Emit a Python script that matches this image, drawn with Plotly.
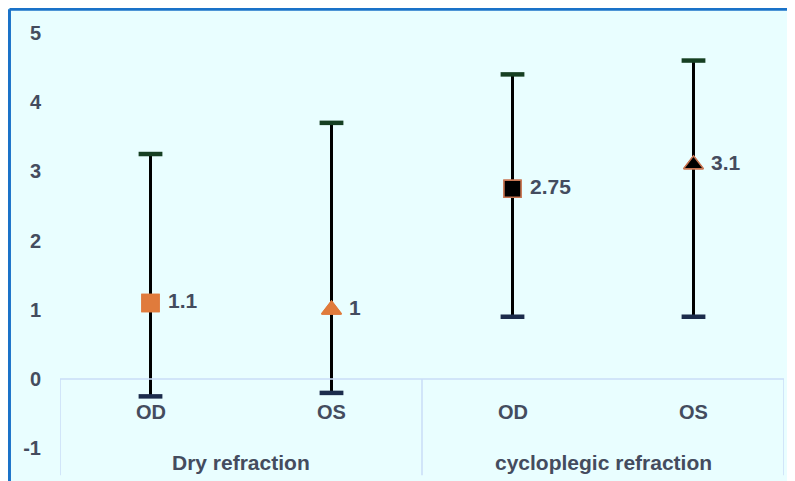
import plotly.graph_objects as go

# ---- data ----
groups = ["Dry refraction", "Dry refraction", "cycloplegic refraction", "cycloplegic refraction"]
eyes = ["OD", "OS", "OD", "OS"]
means = [1.1, 1.0, 2.75, 3.1]
upper = [3.25, 3.7, 4.4, 4.6]
lower = [-0.25, -0.2, 0.9, 0.9]
y_ticks = [-1, 0, 1, 2, 3, 4, 5]
y_ticktext = ["-1", "0", "1", "2", "3", "4", "5"]

marker_fill = ["#e07b3c", "#e07b3c", "#000000", "#000000"]
marker_edge = ["#e07b3c", "#e07b3c", "#c87552", "#c87552"]
marker_symbol = ["square", "triangle-up", "square", "triangle-up"]

x = list(range(len(eyes)))
plus = [u - m for u, m in zip(upper, means)]
minus = [m - l for m, l in zip(means, lower)]

TEXT = "#444c5e"
FONT = "Liberation Sans, Arial, sans-serif"
GRID = "#c9dcf7"
BG = "#e9feff"
FRAME = "#1a72c8"

fig = go.Figure()

# whiskers + markers
fig.add_trace(go.Scatter(
    x=x, y=means, mode="markers+text",
    text=[" " + f"{v:g}" for v in means], textposition="middle right",
    textfont=dict(family=FONT, size=21, color=TEXT, weight="bold"),
    error_y=dict(type="data", symmetric=False, array=plus, arrayminus=minus,
                 color="#000000", thickness=3, width=0),
    marker=dict(symbol=marker_symbol, size=17, color=marker_fill,
                line=dict(color=marker_edge, width=1.5)),
    showlegend=False, cliponaxis=False,
))
# caps
fig.add_trace(go.Scatter(
    x=x, y=upper, mode="markers",
    marker=dict(symbol="line-ew", size=17, line=dict(color="#163f22", width=4.5)),
    showlegend=False, cliponaxis=False,
))
fig.add_trace(go.Scatter(
    x=x, y=lower, mode="markers",
    marker=dict(symbol="line-ew", size=17, line=dict(color="#1c2c4c", width=4.5)),
    showlegend=False, cliponaxis=False,
))
# re-draw markers on top of caps
fig.add_trace(go.Scatter(
    x=x, y=means, mode="markers",
    marker=dict(symbol=marker_symbol, size=17, color=marker_fill,
                line=dict(color=marker_edge, width=1.5)),
    showlegend=False, cliponaxis=False,
))

shapes = []
# outer frame (left and top edges; right/bottom lie outside the view)
shapes.append(dict(type="line", xref="paper", yref="paper",
                   x0=-0.0698, x1=-0.0698, y0=-0.3, y1=1.0213,
                   line=dict(color=FRAME, width=3), layer="below"))
shapes.append(dict(type="line", xref="paper", yref="paper",
                   x0=-0.0698, x1=1.3, y0=1.0213, y1=1.0213,
                   line=dict(color=FRAME, width=3), layer="below"))
# category table
shapes.append(dict(type="line", xref="x", yref="y", x0=-0.5, x1=3.5, y0=0, y1=0,
                   line=dict(color=GRID, width=1.5)))
ybot = -1.39
for xv in [-0.5, 1.5, 3.5]:
    shapes.append(dict(type="line", xref="x", yref="y", x0=xv, x1=xv, y0=0, y1=ybot,
                       line=dict(color=GRID, width=1.5)))

annotations = []
for i, e in enumerate(eyes):
    annotations.append(dict(x=i, y=-0.48, xref="x", yref="y", text=e, showarrow=False,
                            font=dict(family=FONT, size=20, color=TEXT, weight="bold")))
seen = []
for g in groups:
    if g not in seen:
        seen.append(g)
for g in seen:
    idx = [i for i, gg in enumerate(groups) if gg == g]
    annotations.append(dict(x=sum(idx) / len(idx), y=-1.2, xref="x", yref="y", text=g,
                            showarrow=False,
                            font=dict(family=FONT, size=21, color=TEXT, weight="bold")))

fig.update_layout(
    width=795, height=481,
    margin=dict(l=52, r=19, t=11, b=13),
    paper_bgcolor=BG, plot_bgcolor=BG,
    shapes=shapes, annotations=annotations,
    xaxis=dict(range=[-0.5, 3.5], showticklabels=False, showgrid=False, zeroline=False,
               showline=False, fixedrange=True, automargin=False),
    yaxis=dict(range=[-1.4, 5.2], tickvals=y_ticks, ticktext=y_ticktext,
               showgrid=False, zeroline=False, automargin=False,
               showline=False, ticks="", ticklabelstandoff=18,
               tickfont=dict(family=FONT, size=20, color=TEXT, weight="bold")),
)

fig.write_html("out.html",
               post_script="document.documentElement.style.overflow='hidden';"
                           "document.body.style.overflow='hidden';")
